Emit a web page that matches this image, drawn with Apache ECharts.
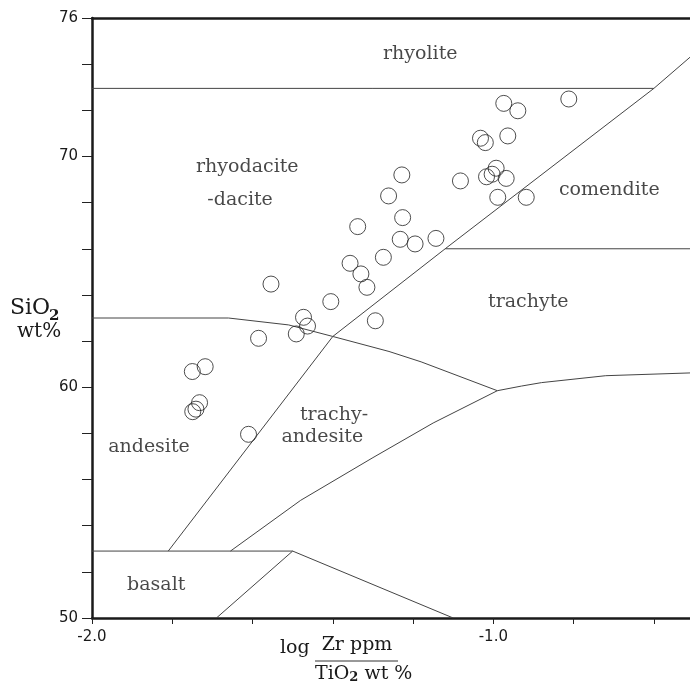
<!DOCTYPE html>
<html>
<head>
<meta charset="utf-8">
<script src="https://cdn.jsdelivr.net/npm/echarts@6/dist/echarts.min.js"></script>
<style>
html,body{margin:0;padding:0;background:#fff;}
#chart{width:690px;height:684px;}
</style>
</head>
<body>
<div id="chart"></div>
<script>
// ---- data ----
const samplePoints = [
  [-0.974,72.30],[-0.939,71.98],[-0.812,72.49],[-1.032,70.79],[-1.020,70.60],
  [-0.964,70.89],[-1.228,69.20],[-1.261,68.29],[-1.082,68.94],[-0.993,69.49],
  [-1.017,69.12],[-1.003,69.23],[-0.968,69.05],[-0.989,68.23],[-0.918,68.23],
  [-1.226,67.35],[-1.338,66.96],[-1.232,66.41],[-1.195,66.21],[-1.143,66.45],
  [-1.274,65.63],[-1.357,65.37],[-1.330,64.91],[-1.315,64.33],[-1.554,64.47],
  [-1.405,63.71],[-1.294,62.88],[-1.473,63.03],[-1.463,62.65],[-1.491,62.31],
  [-1.585,62.12],[-1.750,60.68],[-1.718,60.89],[-1.732,59.33],[-1.741,59.05],
  [-1.749,58.94],[-1.610,57.96]
];
const rhyoliteBoundary = [[-2,72.95],[-0.6,72.95]];
const alkalineDivide = [[-1.81,52.9],[-1.4,62.2],[-1.12,66.0],[-0.6,72.95],[-0.51,74.3]];
const comenditeTrachyte = [[-1.12,66.0],[-0.51,66.0]];
const andesiteDaciteBoundary = [[-2,63.0],[-1.66,63.0],[-1.51,62.7],[-1.4,62.2],[-1.26,61.55],[-1.18,61.1],[-0.99,59.85]];
const trachyteLower = [[-0.99,59.85],[-0.93,60.05],[-0.88,60.2],[-0.72,60.5],[-0.51,60.62]];
const trachyandesiteLower = [[-1.655,52.9],[-1.48,55.1],[-1.3,56.95],[-1.15,58.45],[-0.99,59.85]];
const basaltTop = [[-2,52.9],[-1.5,52.9]];
const basaltRight = [[-1.5,52.9],[-1.69,50]];
const basaltLowerRight = [[-1.5,52.9],[-1.1,50]];
const regionLabels = [
  {name:'rhyolite', value:[-1.182,74.44]},
  {name:'rhyodacite', value:[-1.613,69.54]},
  {name:'-dacite', value:[-1.631,68.11]},
  {name:'comendite', value:[-0.711,68.55]},
  {name:'trachyte', value:[-0.913,63.70]},
  {name:'trachy-', value:[-1.397,58.80]},
  {name:'andesite', value:[-1.426,57.85]},
  {name:'andesite', value:[-1.858,57.41]},
  {name:'basalt', value:[-1.840,51.43]}
];
const xTickValues = [-2,-1.8,-1.6,-1.4,-1.2,-1.0,-0.8,-0.6];
const xLabelValues = [-2,-1];
const yLabelValues = [50,60,70,76];

// ---- chart ----
const chart = echarts.init(document.getElementById('chart'));
const lineColor = '#444';
function boundary(data){
  return {type:'line', data:data, symbol:'none', silent:true, z:2,
    lineStyle:{color:lineColor, width:1}, animation:false};
}
const serif = 'DejaVu Serif';
chart.setOption({
  animation:false,
  backgroundColor:'#fff',
  grid:{left:92, top:18, right:0, bottom:66, containLabel:false},
  xAxis:[{
    type:'value', min:-2, max:-0.51, interval:0.2, position:'bottom',
    axisLine:{show:true, onZero:false, lineStyle:{color:'#1a1a1a', width:2.5}},
    axisTick:{show:true, length:6, inside:false, customValues:xTickValues, lineStyle:{color:'#222', width:1}},
    axisLabel:{show:true, customValues:xLabelValues, margin:12, fontFamily:'DejaVu Sans', fontSize:15, color:'#1a1a1a',
      formatter:function(v){ return v.toFixed(1); }},
    splitLine:{show:false}
  },{
    type:'value', min:-2, max:-0.51, position:'top',
    axisLine:{show:true, onZero:false, lineStyle:{color:'#1a1a1a', width:2.5}},
    axisTick:{show:false}, axisLabel:{show:false}, splitLine:{show:false}
  }],
  yAxis:{
    type:'value', min:50, max:76, interval:2,
    axisLine:{show:true, onZero:false, lineStyle:{color:'#1a1a1a', width:2.5}},
    axisTick:{show:true, length:10, lineStyle:{color:'#222', width:1}},
    axisLabel:{show:true, customValues:yLabelValues, margin:14, fontFamily:'DejaVu Sans', fontSize:15, color:'#1a1a1a'},
    splitLine:{show:false}
  },
  series:[
    boundary(rhyoliteBoundary),
    boundary(alkalineDivide),
    boundary(comenditeTrachyte),
    boundary(andesiteDaciteBoundary),
    boundary(trachyteLower),
    boundary(trachyandesiteLower),
    boundary(basaltTop),
    boundary(basaltRight),
    boundary(basaltLowerRight),
    {type:'scatter', data:samplePoints, symbol:'circle', symbolSize:16, z:5, silent:true,
      itemStyle:{color:'rgba(0,0,0,0)', borderColor:'#222', borderWidth:1}},
    {type:'scatter', data:regionLabels, symbol:'circle', symbolSize:1, z:4, silent:true,
      itemStyle:{color:'rgba(0,0,0,0)'},
      label:{show:true, position:'inside', formatter:'{b}', fontFamily:serif, fontSize:19, color:'#1a1a1a'}}
  ],
  graphic:[
    {type:'text', x:10, y:308, style:{text:'SiO', font:'22px "DejaVu Serif"', fill:'#1a1a1a', verticalAlign:'middle', textAlign:'left'}},
    {type:'text', x:49, y:316, style:{text:'2', font:'bold 15px "DejaVu Serif"', fill:'#1a1a1a', verticalAlign:'middle', textAlign:'left'}},
    {type:'text', x:17, y:332, style:{text:'wt%', font:'20px "DejaVu Serif"', fill:'#1a1a1a', verticalAlign:'middle', textAlign:'left'}},
    {type:'text', x:280, y:648, style:{text:'log', font:'19px "DejaVu Serif"', fill:'#1a1a1a', verticalAlign:'middle', textAlign:'left'}},
    {type:'text', x:357, y:645, style:{text:'Zr ppm', font:'19px "DejaVu Serif"', fill:'#1a1a1a', verticalAlign:'middle', textAlign:'center'}},
    {type:'line', shape:{x1:315, y1:661, x2:398, y2:661}, style:{stroke:'#333', lineWidth:1}},
    {type:'text', x:315, y:674, style:{text:'{n|TiO}{s|2}{n| wt %}', verticalAlign:'middle', textAlign:'left',
      rich:{n:{font:'19px "DejaVu Serif"', fill:'#1a1a1a'}, s:{font:'bold 13px "DejaVu Serif"', fill:'#1a1a1a', padding:[8,0,0,0]}}}}
  ]
});
</script>
</body>
</html>
